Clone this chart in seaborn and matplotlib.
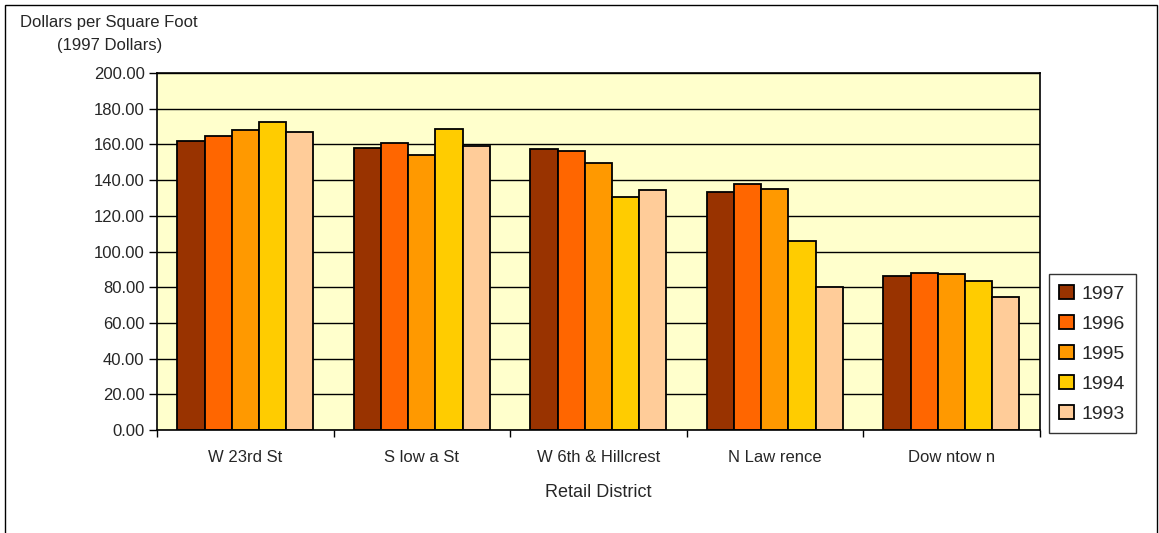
import matplotlib
matplotlib.use("Agg")
import matplotlib.pyplot as plt
import seaborn as sns
import pandas as pd
import numpy as np
from matplotlib.ticker import FixedLocator, FuncFormatter

districts = ["W 23rd St", "S low a St", "W 6th & Hillcrest", "N Law rence", "Dow ntow n"]
years = ["1997", "1996", "1995", "1994", "1993"]
v1997 = [162.0, 158.2, 157.3, 133.5, 86.3]
v1996 = [164.7, 161.0, 156.5, 137.8, 88.1]
v1995 = [168.0, 153.9, 149.6, 135.2, 87.2]
v1994 = [172.5, 168.8, 130.7, 105.9, 83.6]
v1993 = [167.0, 159.3, 134.5, 80.1, 74.7]
colors = ["#993300", "#FF6600", "#FF9900", "#FFCC00", "#FFCC99"]

rows = []
for y, vals in zip(years, [v1997, v1996, v1995, v1994, v1993]):
    for d, v in zip(districts, vals):
        rows.append({"District": d, "Year": y, "Value": v})
df = pd.DataFrame(rows)

sns.set_theme(style="white")
plt.rcParams['font.family'] = ['Liberation Sans', 'DejaVu Sans']

fig = plt.figure(figsize=(11.59, 5.33), dpi=100)
ax = fig.add_axes([0.1355, 0.193, 0.7615, 0.670])
ax.set_facecolor("#FFFFCC")

sns.barplot(data=df, x="District", y="Value", hue="Year", order=districts,
            hue_order=years, palette=colors, width=0.77, edgecolor="black",
            linewidth=1.3, saturation=1, ax=ax, legend=True)

ax.set_ylim(0, 200)
ax.set_xlim(-0.5, 4.5)
ax.set_yticks(np.arange(0, 201, 20))
ax.yaxis.set_major_formatter(FuncFormatter(lambda v, p: f"{v:.2f}"))
ax.grid(axis="y", color="black", linewidth=1.0)
ax.set_axisbelow(True)
for s in ax.spines.values():
    s.set_color("black")
    s.set_linewidth(1.2)
ax.tick_params(axis="y", which="major", length=6, width=1, color="black",
               direction="out", left=True, labelsize=12, pad=3)
ax.tick_params(axis="x", which="major", length=0, labelsize=12, pad=14)
ax.xaxis.set_minor_locator(FixedLocator(np.arange(-0.5, 4.6, 1.0)))
ax.tick_params(axis="x", which="minor", length=5, width=1, color="black",
               direction="out", bottom=True)
ax.set_xlabel("Retail District", fontsize=13, labelpad=14)
ax.set_ylabel("")

fig.text(0.094, 0.958, "Dollars per Square Foot", ha="center", va="center", fontsize=12)
fig.text(0.095, 0.915, "(1997 Dollars)", ha="center", va="center", fontsize=12)

leg = ax.legend(loc="upper left", bbox_to_anchor=(1.0102, 0.437), frameon=True,
                fancybox=False, edgecolor="black", fontsize=14,
                handlelength=0.75, handleheight=0.75, handletextpad=0.4,
                labelspacing=0.62, borderpad=0.55, borderaxespad=0, title=None)
leg.get_frame().set_linewidth(1.0)

# figure border
border = plt.Rectangle((0.004, -0.01), 0.994, 1.0, transform=fig.transFigure,
                       fill=False, edgecolor="black", linewidth=1.0)
fig.patches.append(border)

fig.savefig("out.png", dpi=100)
